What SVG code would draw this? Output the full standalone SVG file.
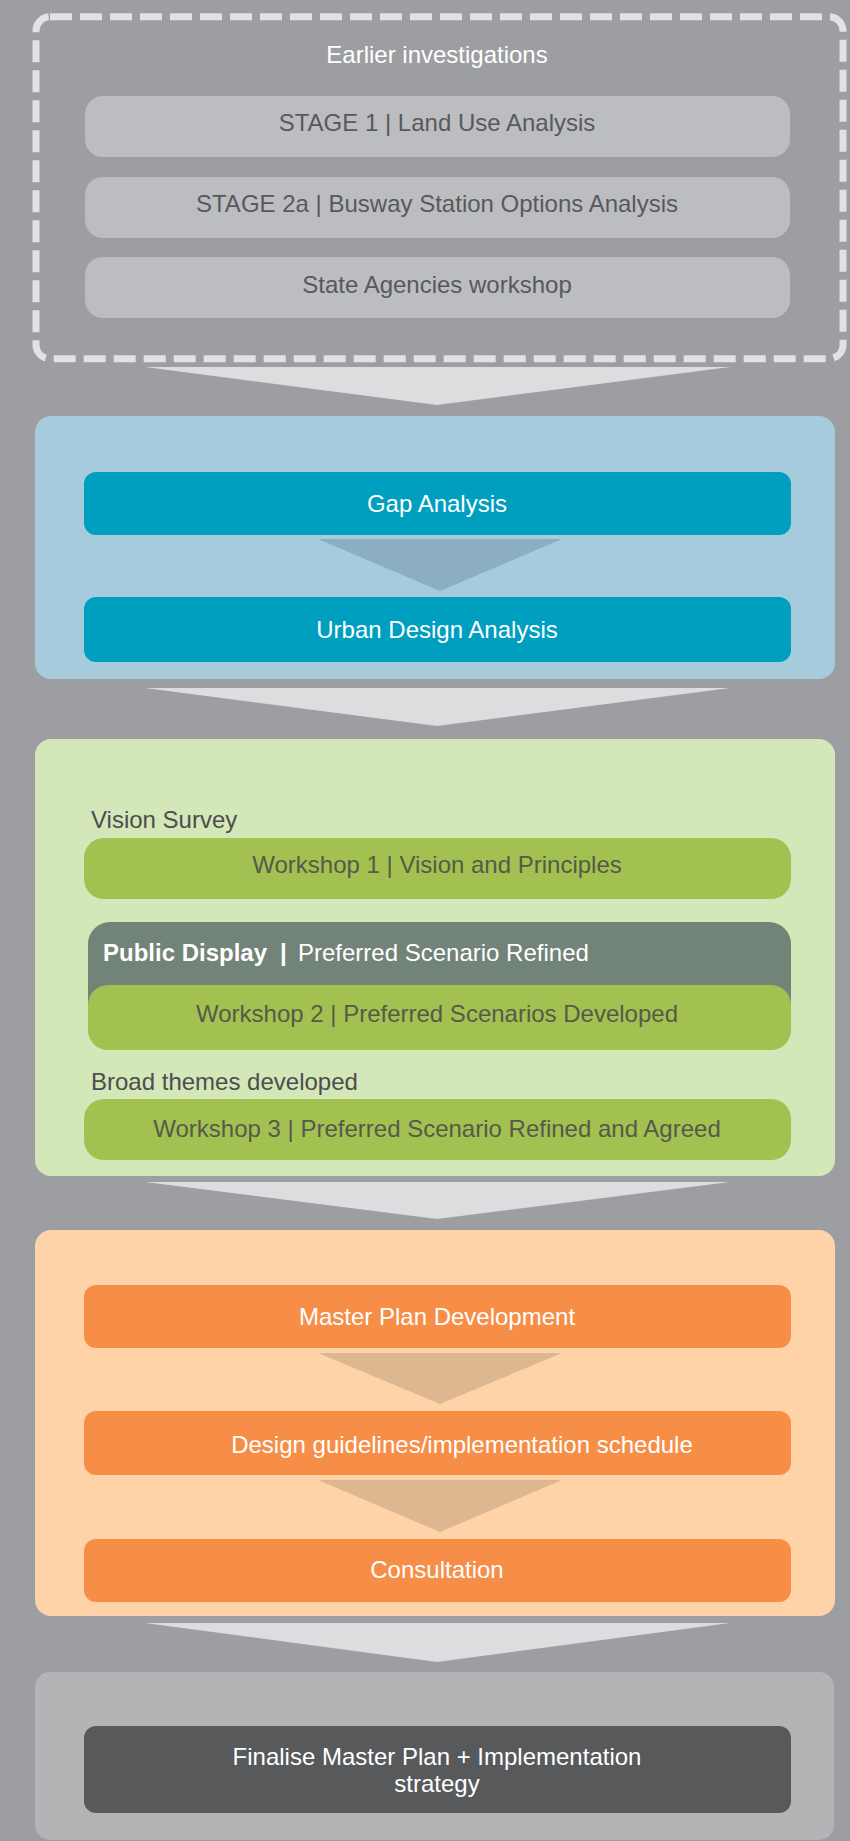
<svg xmlns="http://www.w3.org/2000/svg" width="850" height="1841" viewBox="0 0 850 1841">
<style>
text{font-family:"Liberation Sans",Arial,sans-serif;font-size:24px}
.c{text-anchor:middle}
.w{fill:#ffffff}
.d{fill:#58595B}
.g{fill:#555a4a}
.stage{fill:#BCBDC1}
.teal{fill:#009EBF}
.lime{fill:#A3C150}
.orng{fill:#F68E48}
.chev{fill:#DCDDDF}
</style>
<rect x="0" y="0" width="850" height="1841" fill="#9D9EA2"/>
<g id="earlier">
<rect x="36" y="16.7" width="807" height="342" rx="14" fill="none" stroke="#E1E2E4" stroke-width="7" stroke-dasharray="22 8"/>
<text class="c w" x="437" y="63" font-size="23">Earlier investigations</text>
</g>
<g id="stage1"><rect class="stage" x="85" y="96" width="705" height="61" rx="18"/><text class="c d" x="437" y="131">STAGE 1 | Land Use Analysis</text></g>
<g id="stage2a"><rect class="stage" x="85" y="177" width="705" height="61" rx="18"/><text class="c d" x="437" y="212">STAGE 2a | Busway Station Options Analysis</text></g>
<g id="agencies"><rect class="stage" x="85" y="257" width="705" height="61" rx="18"/><text class="c d" x="437" y="293">State Agencies workshop</text></g>

<g id="blue-panel"><rect x="35" y="416" width="800" height="263" rx="16" fill="#A5CBDC"/></g>
<g id="gap"><rect class="teal" x="84" y="472" width="707" height="63" rx="12"/><text class="c w" x="437" y="512">Gap Analysis</text></g>
<g id="urban"><rect class="teal" x="84" y="597" width="707" height="65" rx="12"/><text class="c w" x="437" y="638">Urban Design Analysis</text></g>

<g id="green-panel"><rect x="35" y="739" width="800" height="437" rx="16" fill="#D4E7B9"/>
<text x="91" y="828" fill="#4D4D4F">Vision Survey</text>
<text x="91" y="1090" fill="#4D4D4F">Broad themes developed</text>
</g>
<g id="workshop1"><rect class="lime" x="84" y="838" width="707" height="61" rx="20"/><text class="c g" x="437" y="873">Workshop 1 | Vision and Principles</text></g>
<g id="public-display"><rect x="88" y="922" width="703" height="110" rx="22" fill="#728377"/>
<text class="w" x="103" y="961"><tspan font-weight="bold">Public Display</tspan><tspan x="280" font-weight="bold">|</tspan><tspan x="298">Preferred Scenario Refined</tspan></text></g>
<g id="workshop2"><rect class="lime" x="88" y="985" width="703" height="65" rx="20"/><text class="c g" x="437" y="1022">Workshop 2 | Preferred Scenarios Developed</text></g>
<g id="workshop3"><rect class="lime" x="84" y="1099" width="707" height="61" rx="20"/><text class="c g" x="437" y="1137">Workshop 3 | Preferred Scenario Refined and Agreed</text></g>

<g id="orange-panel"><rect x="35" y="1230" width="800" height="386" rx="16" fill="#FED3A7"/></g>
<g id="master"><rect class="orng" x="84" y="1285" width="707" height="63" rx="12"/><text class="c w" x="437" y="1325">Master Plan Development</text></g>
<g id="guidelines"><rect class="orng" x="84" y="1411" width="707" height="64" rx="12"/><text class="c w" x="462" y="1453">Design guidelines/implementation schedule</text></g>
<g id="consultation"><rect class="orng" x="84" y="1539" width="707" height="63" rx="12"/><text class="c w" x="437" y="1578">Consultation</text></g>

<g id="grey-panel"><rect x="35" y="1672" width="799" height="168" rx="15" fill="#B3B4B6"/></g>
<g id="finalise"><rect x="84" y="1726" width="707" height="87" rx="12" fill="#58595B"/>
<text class="c w" x="437" y="1765">Finalise Master Plan + Implementation</text>
<text class="c w" x="437" y="1792">strategy</text></g>

<g id="connectors">
<polygon class="chev" points="145,367 730,367 437,405"/>
<polygon points="318,539 562,539 440,591" fill="#8BAFC0"/>
<polygon class="chev" points="145,688 730,688 437,726"/>
<polygon class="chev" points="145,1182 730,1182 437,1219"/>
<polygon points="318,1353 562,1353 440,1404" fill="#DCB78F"/>
<polygon points="318,1480 562,1480 440,1532" fill="#DCB78F"/>
<polygon class="chev" points="145,1623 730,1623 437,1662"/>
</g>
</svg>
